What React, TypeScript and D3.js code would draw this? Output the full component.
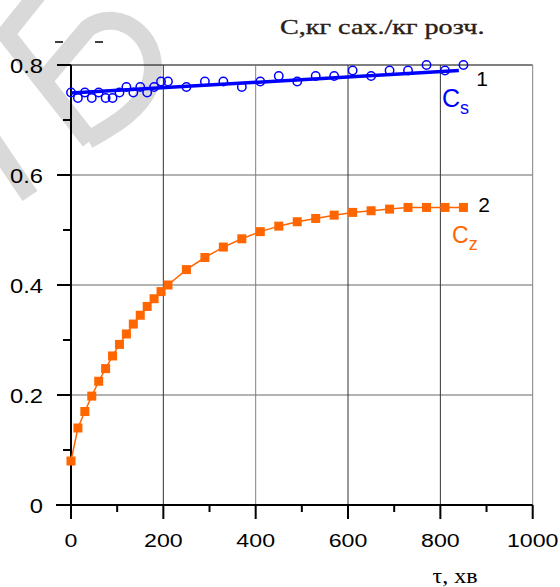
import React from "react";
import * as d3 from "d3";

const tau = [0, 15, 30, 45, 60, 75, 90, 105, 120, 135, 150, 165, 180, 195, 210, 250, 290, 330, 370, 410, 450, 490, 530, 570, 610, 650, 690, 730, 770, 810, 850];
const cz = [0.08, 0.14, 0.17, 0.198, 0.225, 0.248, 0.271, 0.292, 0.311, 0.329, 0.345, 0.361, 0.375, 0.388, 0.4, 0.428, 0.45, 0.469, 0.484, 0.497, 0.507, 0.515, 0.521, 0.527, 0.532, 0.535, 0.538, 0.541, 0.541, 0.541, 0.541];
const cs = [0.75, 0.74, 0.75, 0.74, 0.75, 0.74, 0.74, 0.75, 0.76, 0.75, 0.76, 0.75, 0.76, 0.77, 0.77, 0.76, 0.77, 0.77, 0.76, 0.77, 0.78, 0.77, 0.78, 0.78, 0.79, 0.78, 0.79, 0.79, 0.8, 0.79, 0.8];
const fitTau = [0, 840];
const fitCs = [0.749, 0.79];
const xTicks = [0, 200, 400, 600, 800, 1000];
const xMinor = [100, 300, 500, 700, 900];
const yTicks = [0, 0.2, 0.4, 0.6, 0.8];
const yMinor = [0.1, 0.3, 0.5, 0.7];
const yTickLabels = ["0", "0.2", "0.4", "0.6", "0.8"];
const titleText = "С,кг сах./кг розч.";
const xTitle = "τ, хв";

export default function App() {
  const x = d3.scaleLinear().domain([0, 1000]).range([71, 532.7]);
  const y = d3.scaleLinear().domain([0, 0.8]).range([505, 65]);
  const zPts = tau.map((t, i) => [x(t), y(cz[i])] as [number, number]);
  const sPts = tau.map((t, i) => [x(t), y(cs[i])] as [number, number]);
  const line = d3.line();
  const fitPts = fitTau.map((t, i) => [x(t), y(fitCs[i])] as [number, number]);
  const gridColor = (t: number) => (t === 400 || t === 1000 ? "#808080" : "#333");
  const sans = "'Liberation Sans', Arial, sans-serif";
  const serif = "'Liberation Serif', 'Times New Roman', serif";
  return (
    <svg width={560} height={587} style={{ position: "absolute", left: 0, top: 0, background: "#fff" }}>
      {/* watermark */}
      <g fill="none" stroke="#d9d9d9" strokeWidth={18} strokeLinejoin="miter">
        <path d="M38,-6 L6,34 L90,141" />
        <path d="M44,80 L88,28 C120,5 165,40 150,85 C140,110 115,125 88,140" />
        <path d="M-8,140 L30,196" />
      </g>
      <line x1={55} x2={63} y1={42} y2={42} stroke="#000" strokeWidth={1.5} />
      <line x1={95} x2={103} y1={42} y2={42} stroke="#000" strokeWidth={1.5} />
      {/* grid */}
      {yTicks.filter((v) => v > 0).map((v) => (
        <line key={"gy" + v} x1={x(0)} x2={x(1000)} y1={y(v)} y2={y(v)} stroke={v === 0.8 ? "#000" : "#666"} strokeWidth={1} />
      ))}
      {xTicks.filter((t) => t > 0).map((t) => (
        <line key={"gx" + t} x1={x(t)} x2={x(t)} y1={y(0.8)} y2={y(0)} stroke={gridColor(t)} strokeWidth={1} />
      ))}
      {/* axes */}
      <line x1={x(0)} x2={x(0)} y1={y(0.8)} y2={y(0) + 14} stroke="#000" strokeWidth={2} />
      <line x1={x(0) - 15} x2={x(1000)} y1={y(0)} y2={y(0)} stroke="#000" strokeWidth={2} />
      {xTicks.map((t) => (
        <line key={"xt" + t} x1={x(t)} x2={x(t)} y1={y(0)} y2={y(0) + 14} stroke="#000" strokeWidth={2} />
      ))}
      {xMinor.map((t) => (
        <line key={"xm" + t} x1={x(t)} x2={x(t)} y1={y(0)} y2={y(0) + 7} stroke="#000" strokeWidth={2} />
      ))}
      {yTicks.map((v) => (
        <line key={"yt" + v} x1={x(0) - 14} x2={x(0)} y1={y(v)} y2={y(v)} stroke="#000" strokeWidth={2} />
      ))}
      {yMinor.map((v) => (
        <line key={"ym" + v} x1={x(0) - 8} x2={x(0)} y1={y(v)} y2={y(v)} stroke="#000" strokeWidth={2} />
      ))}
      {/* tick labels */}
      {yTicks.map((v, i) => (
        <g key={"yl" + v} transform={`translate(43,${y(v) + 7.5}) scale(1.13,1)`}>
          <text textAnchor="end" fontFamily={sans} fontSize={21} fill="#000">{yTickLabels[i]}</text>
        </g>
      ))}
      {xTicks.map((t) => (
        <g key={"xl" + t} transform={`translate(${x(t)},547) scale(1.22,1)`}>
          <text textAnchor="middle" fontFamily={sans} fontSize={19} fill="#000">{t}</text>
        </g>
      ))}
      {/* series 2 */}
      <path d={line(zPts) || ""} fill="none" stroke="#ff6600" strokeWidth={1.5} />
      {zPts.map((p, i) => (
        <rect key={"z" + i} x={p[0] - 4.5} y={p[1] - 4.5} width={9} height={9} fill="#ff6600" />
      ))}
      {/* series 1 */}
      <path d={line(fitPts) || ""} fill="none" stroke="#0000ff" strokeWidth={3.5} />
      {sPts.map((p, i) => (
        <circle key={"s" + i} cx={p[0]} cy={p[1]} r={4.2} fill="none" stroke="#0000ff" strokeWidth={1.5} />
      ))}
      {/* labels */}
      <text x={482} y={86} textAnchor="middle" fontFamily={sans} fontSize={21} fill="#000">1</text>
      <text x={442} y={107} fontFamily={sans} fontSize={25} fill="#0000ff">C<tspan fontSize={18} dy={7}>s</tspan></text>
      <text x={484} y={212} textAnchor="middle" fontFamily={sans} fontSize={21} fill="#000">2</text>
      <text x={452} y={243} fontFamily={sans} fontSize={23} fill="#ff6600">C<tspan fontSize={18} dy={7}>z</tspan></text>
      <g transform="translate(280,34) scale(1.28,1)">
        <text fontFamily={serif} fontSize={22} fill="#2b2016" stroke="#2b2016" strokeWidth={0.35}>{titleText}</text>
      </g>
      <g transform="translate(455,583) scale(1.2,1)">
        <text textAnchor="middle" fontFamily={serif} fontSize={20} fill="#000">{xTitle}</text>
      </g>
    </svg>
  );
}
